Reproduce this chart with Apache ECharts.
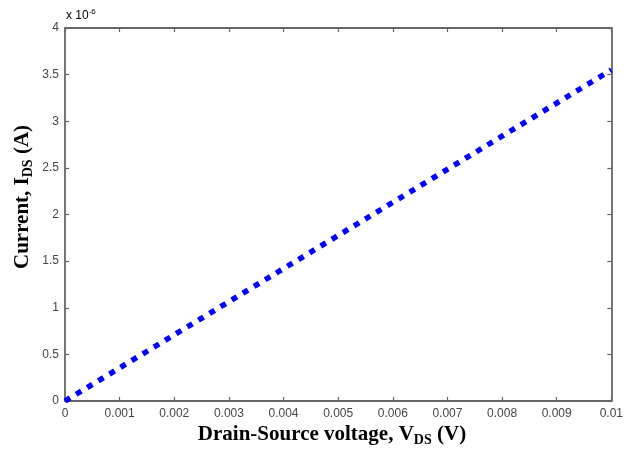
<!DOCTYPE html>
<html>
<head>
<meta charset="utf-8">
<script src="https://cdn.jsdelivr.net/npm/echarts@6/dist/echarts.min.js"></script>
<style>
  html, body { margin: 0; padding: 0; background: #fff; }
  #chart { width: 626px; height: 453px; }
</style>
</head>
<body>
<div id="chart"></div>
<script>
// V_DS in volts, I_DS in units of 1e-6 A
const vds = [0, 0.001, 0.002, 0.003, 0.004, 0.005, 0.006, 0.007, 0.008, 0.009, 0.01];
const ids = [0, 0.355, 0.71, 1.065, 1.42, 1.775, 2.13, 2.485, 2.84, 3.195, 3.55];
const xTicks = ["0", "0.001", "0.002", "0.003", "0.004", "0.005", "0.006", "0.007", "0.008", "0.009", "0.01"];

const chartDom = document.getElementById("chart");
const myChart = echarts.init(chartDom);

const axisColor = "#666";
const labelColor = "#444";
const sansFont = "Liberation Sans";
const serifFont = "Liberation Serif";

const titleRich = {
  main: { fontFamily: serifFont, fontWeight: "bold", fontSize: 21, color: "#000" },
  sub: { fontFamily: serifFont, fontWeight: "bold", fontSize: 14, color: "#000", padding: [10, 0, 0, 0] }
};

function frameAxis(extra) {
  return Object.assign({
    type: "value",
    axisLine: { show: true, onZero: false, lineStyle: { color: axisColor, width: 1.8 } },
    axisTick: { inside: true, length: 4, lineStyle: { color: axisColor, width: 1.2 } },
    splitLine: { show: false }
  }, extra);
}

const option = {
  animation: false,
  grid: { left: 65, right: 13, top: 28, bottom: 52 },
  xAxis: [
    frameAxis({
      min: 0, max: 0.01, interval: 0.001,
      axisLabel: {
        color: labelColor, fontFamily: sansFont, fontSize: 12, margin: 7,
        formatter: (v) => xTicks[Math.round(v * 1000)]
      }
    }),
    frameAxis({ position: "top", min: 0, max: 0.01, interval: 0.001, axisLabel: { show: false } })
  ],
  yAxis: [
    frameAxis({
      min: 0, max: 4, interval: 0.5,
      axisLabel: { color: labelColor, fontFamily: sansFont, fontSize: 12, margin: 6 }
    }),
    frameAxis({ position: "right", min: 0, max: 4, interval: 0.5, axisLabel: { show: false } })
  ],
  graphic: [
    {
      type: "text",
      left: 66,
      top: 8,
      style: {
        text: "{a|x 10}{b|-6}",
        rich: {
          a: { fontFamily: sansFont, fontSize: 12, color: labelColor },
          b: { fontFamily: sansFont, fontSize: 8, color: labelColor, padding: [0, 0, 8, 0] }
        }
      }
    },
    {
      type: "text",
      x: 332,
      y: 435,
      style: {
        text: "{main|Drain-Source voltage, V}{sub|DS}{main| (V)}",
        rich: titleRich,
        align: "center",
        verticalAlign: "middle"
      }
    },
    {
      type: "text",
      x: 23,
      y: 197,
      rotation: Math.PI / 2,
      style: {
        text: "{main|Current, I}{sub|DS}{main| (A)}",
        rich: titleRich,
        align: "center",
        verticalAlign: "middle"
      }
    }
  ],
  series: [
    {
      type: "line",
      data: vds.map((v, i) => [v, ids[i]]),
      showSymbol: false,
      lineStyle: { color: "#0000ff", width: 5.5, type: [6, 7], cap: "butt" },
      clip: false
    }
  ]
};

myChart.setOption(option);
</script>
</body>
</html>
